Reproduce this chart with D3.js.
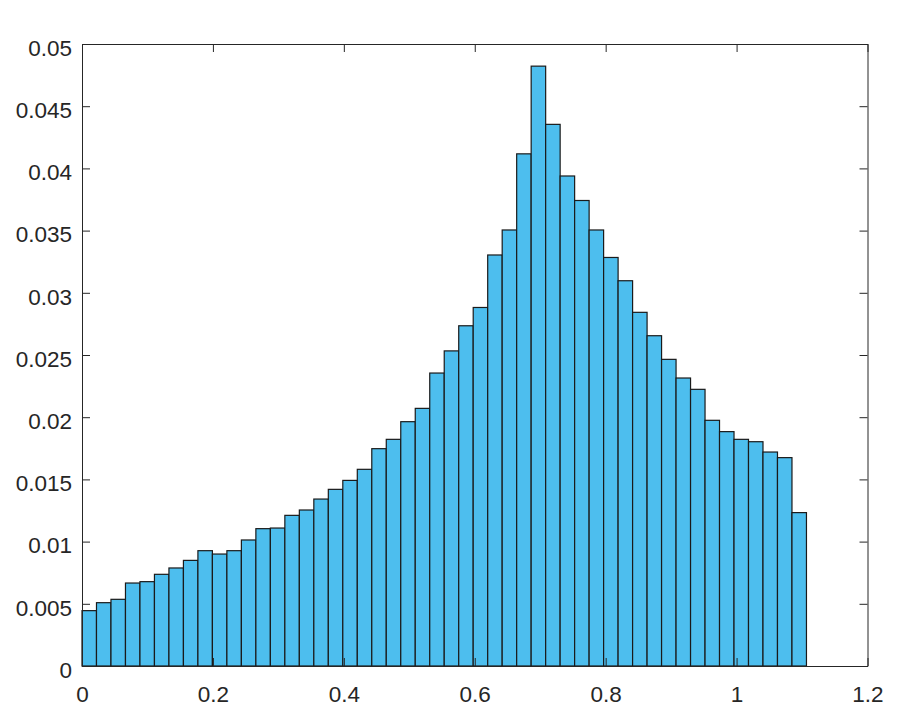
<!DOCTYPE html>
<html>
<head>
<meta charset="utf-8">
<script src="https://cdn.jsdelivr.net/npm/d3@7"></script>
<style>
  html, body { margin: 0; padding: 0; background: #fff; }
  svg { display: block; }
</style>
</head>
<body>
<svg id="chart" width="906" height="721"></svg>
<script>
// Histogram bin heights (probability), 50 equal bins starting at 0
const binValues = [0.00445, 0.00509, 0.00536, 0.00667, 0.00678, 0.00737, 0.00788, 0.00849, 0.00927, 0.00900,
  0.00927, 0.01013, 0.01104, 0.01109, 0.01211, 0.01254, 0.01342, 0.01420, 0.01492, 0.01581,
  0.01747, 0.01822, 0.01964, 0.02071, 0.02355, 0.02533, 0.02735, 0.02882, 0.03304, 0.03505,
  0.04117, 0.04822, 0.04354, 0.03939, 0.03742, 0.03505, 0.03284, 0.03097, 0.02843, 0.02655,
  0.02465, 0.02315, 0.02224, 0.01975, 0.01884, 0.01822, 0.01803, 0.01720, 0.01675, 0.01233];
const binStart = 0;
const binWidth = 0.022135;
const xTicks = [0, 0.2, 0.4, 0.6, 0.8, 1, 1.2];
const xTickLabels = ["0", "0.2", "0.4", "0.6", "0.8", "1", "1.2"];
const yTicks = [0, 0.005, 0.01, 0.015, 0.02, 0.025, 0.03, 0.035, 0.04, 0.045, 0.05];
const yTickLabels = ["0", "0.005", "0.01", "0.015", "0.02", "0.025", "0.03", "0.035", "0.04", "0.045", "0.05"];

const margin = {left: 82, right: 906 - 867.5, top: 44, bottom: 721 - 666};
const W = 906, H = 721;
const svg = d3.select("#chart");

const x = d3.scaleLinear().domain([0, 1.2]).range([margin.left, W - margin.right]);
const y = d3.scaleLinear().domain([0, 0.05]).range([H - margin.bottom, margin.top]);

const bins = binValues.map((v, i) => ({x0: binStart + i * binWidth, x1: binStart + (i + 1) * binWidth, v}));

// bars
svg.append("g").selectAll("rect").data(bins).join("rect")
  .attr("x", d => x(d.x0))
  .attr("y", d => y(d.v))
  .attr("width", d => x(d.x1) - x(d.x0))
  .attr("height", d => y(0) - y(d.v))
  .attr("fill", "#4DBEEE")
  .attr("stroke", "#1a1a1a")
  .attr("stroke-width", 1.2);

const axisColor = "#262626";
const font = "'Liberation Sans', Arial, Helvetica, sans-serif";
const tickLen = 8;

// Bottom axis (ticks inward)
const gx = svg.append("g").attr("transform", `translate(0,${y(0)})`)
  .call(d3.axisBottom(x).tickValues(xTicks).tickFormat((d, i) => xTickLabels[i]).tickSizeInner(-tickLen).tickSizeOuter(0).tickPadding(24));
gx.select(".domain").attr("stroke", axisColor);
gx.selectAll(".tick line").attr("stroke", axisColor);
gx.selectAll(".tick text").attr("fill", axisColor).style("font-family", font).style("font-size", "22.5px")
  .attr("dy", "0.71em").attr("y", 20);

// Top axis ticks
const gxt = svg.append("g").attr("transform", `translate(0,${y(0.05)})`)
  .call(d3.axisTop(x).tickValues(xTicks).tickFormat("").tickSizeInner(-tickLen).tickSizeOuter(0));
gxt.select(".domain").attr("stroke", axisColor);
gxt.selectAll(".tick line").attr("stroke", axisColor);

// Left axis
const gy = svg.append("g").attr("transform", `translate(${x(0)},0)`)
  .call(d3.axisLeft(y).tickValues(yTicks).tickFormat((d, i) => yTickLabels[i]).tickSizeInner(-tickLen).tickSizeOuter(0));
gy.select(".domain").attr("stroke", axisColor);
gy.selectAll(".tick line").attr("stroke", axisColor);
gy.selectAll(".tick text").attr("fill", axisColor).style("font-family", font).style("font-size", "22.5px")
  .attr("x", -10).attr("dy", "0.5em");

// Right axis ticks
const gyr = svg.append("g").attr("transform", `translate(${x(1.2)},0)`)
  .call(d3.axisRight(y).tickValues(yTicks).tickFormat("").tickSizeInner(-tickLen).tickSizeOuter(0));
gyr.select(".domain").attr("stroke", axisColor);
gyr.selectAll(".tick line").attr("stroke", axisColor);
</script>
</body>
</html>
